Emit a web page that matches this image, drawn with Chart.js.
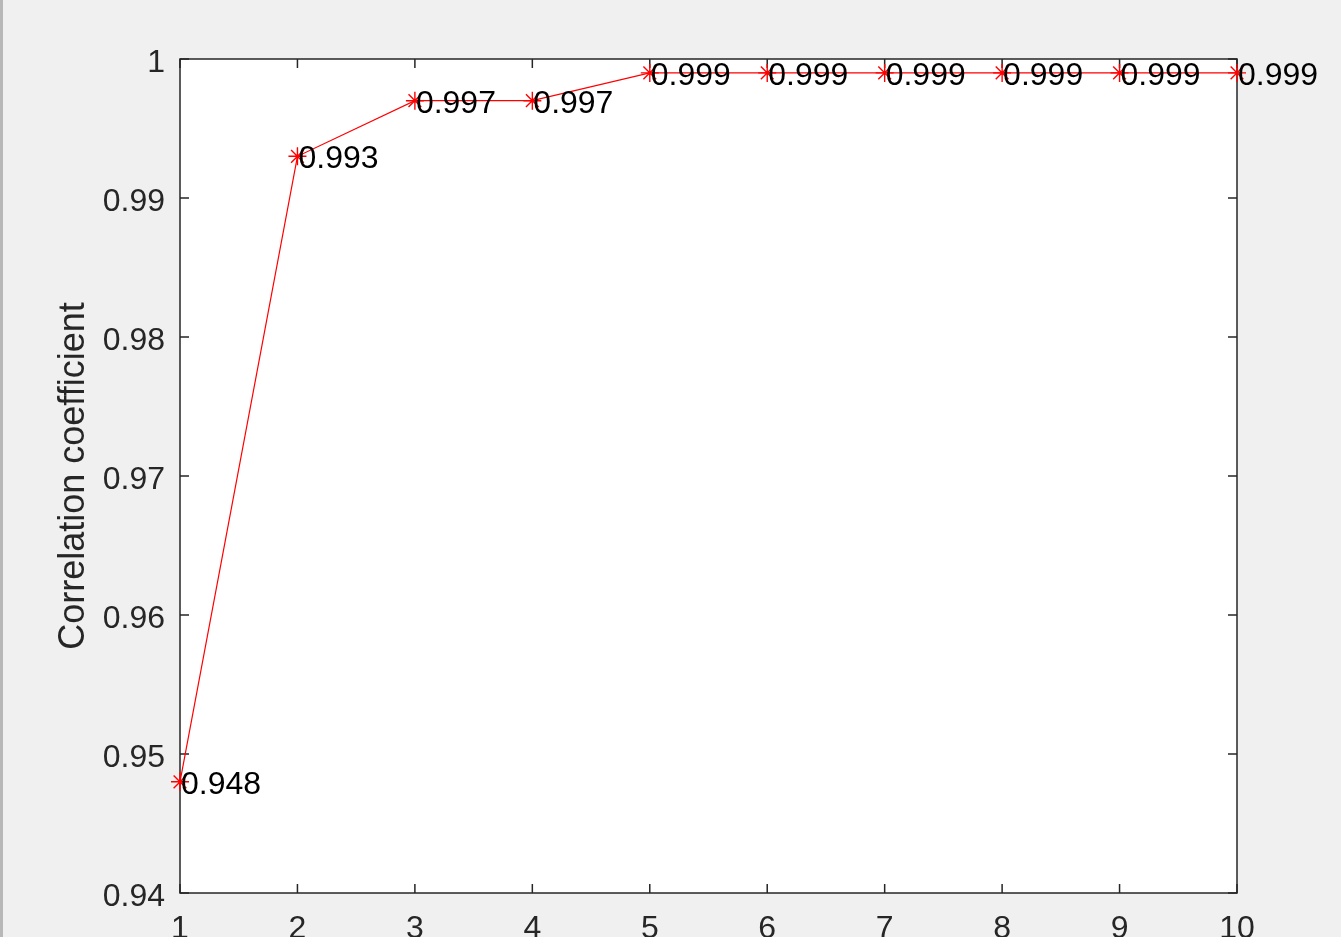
<!DOCTYPE html>
<html>
<head>
<meta charset="utf-8">
<script src="https://cdn.jsdelivr.net/npm/chart.js@4/dist/chart.umd.min.js"></script>
<style>
  html, body { margin: 0; padding: 0; background: #f0f0f0; overflow: hidden; }
  #wrap { position: absolute; left: 0; top: 0; width: 1341px; height: 1000px; }
  #edge { position: absolute; left: 0; top: 0; width: 3px; height: 937px; background: #b8b8b8; }
</style>
</head>
<body>
<div id="wrap"><canvas id="corrChart" width="1341" height="1000"></canvas></div>
<div id="edge"></div>
<script>
// data
const xValues = [1, 2, 3, 4, 5, 6, 7, 8, 9, 10];
const corrValues = [0.948, 0.993, 0.997, 0.997, 0.999, 0.999, 0.999, 0.999, 0.999, 0.999];
const pointLabels = ["0.948", "0.993", "0.997", "0.997", "0.999", "0.999", "0.999", "0.999", "0.999", "0.999"];
const yTitle = "Correlation coefficient";

const FONT = "'Liberation Sans', Arial, sans-serif";
const AXIS_COLOR = "#262626";

// matlab-ish box with inward ticks on all four sides
const boxPlugin = {
  id: "matlabBox",
  beforeDatasetsDraw(chart) {
    const { ctx, chartArea: a, scales } = chart;
    ctx.save();
    ctx.fillStyle = "#ffffff";
    ctx.fillRect(a.left, a.top, a.right - a.left, a.bottom - a.top);
    ctx.strokeStyle = AXIS_COLOR;
    ctx.lineWidth = 1.5;
    ctx.strokeRect(a.left, a.top, a.right - a.left, a.bottom - a.top);
    const len = 9;
    ctx.beginPath();
    scales.x.ticks.forEach(t => {
      const px = scales.x.getPixelForValue(t.value);
      ctx.moveTo(px, a.bottom); ctx.lineTo(px, a.bottom - len);
      ctx.moveTo(px, a.top); ctx.lineTo(px, a.top + len);
    });
    scales.y.ticks.forEach(t => {
      const py = scales.y.getPixelForValue(t.value);
      ctx.moveTo(a.left, py); ctx.lineTo(a.left + len, py);
      ctx.moveTo(a.right, py); ctx.lineTo(a.right - len, py);
    });
    ctx.stroke();
    ctx.restore();
  },
  afterDatasetsDraw(chart) {
    const { ctx } = chart;
    const meta = chart.getDatasetMeta(0);
    ctx.save();
    ctx.font = "32px " + FONT;
    ctx.fillStyle = "#000000";
    ctx.textAlign = "left";
    ctx.textBaseline = "middle";
    meta.data.forEach((pt, i) => {
      ctx.fillText(pointLabels[i], pt.x + 1, pt.y + 3);
    });
    ctx.restore();
  }
};

const ctx = document.getElementById("corrChart").getContext("2d");

new Chart(ctx, {
  type: "line",
  data: {
    datasets: [{
      data: xValues.map((x, i) => ({ x: x, y: corrValues[i] })),
      borderColor: "#ff0000",
      borderWidth: 1.2,
      tension: 0,
      pointStyle: "star",
      pointRadius: 9,
      pointBorderColor: "#ff0000",
      pointBorderWidth: 1.4,
      pointBackgroundColor: "#ff0000",
      clip: false
    }]
  },
  options: {
    responsive: false,
    animation: false,
    devicePixelRatio: 1,
    layout: { padding: { left: 0, top: 59, right: 104, bottom: 47 } },
    plugins: { legend: { display: false }, tooltip: { enabled: false } },
    scales: {
      x: {
        type: "linear",
        min: 1,
        max: 10,
        border: { display: false },
        grid: { display: false, drawTicks: false },
        ticks: {
          stepSize: 1,
          padding: 17,
          color: AXIS_COLOR,
          font: { family: FONT, size: 32 }
        },
        afterFit(scale) { scale.height = 60; }
      },
      y: {
        min: 0.94,
        max: 1,
        border: { display: false },
        grid: { display: false, drawTicks: false },
        ticks: {
          stepSize: 0.01,
          padding: 15,
          labelOffset: 4,
          color: AXIS_COLOR,
          font: { family: FONT, size: 32 },
          callback: (v) => String(Number(v.toFixed(2)))
        },
        title: {
          display: true,
          text: yTitle,
          color: AXIS_COLOR,
          font: { family: FONT, size: 36 },
          padding: { top: 52, bottom: 0 }
        },
        afterFit(scale) { scale.width = 180; }
      }
    }
  },
  plugins: [boxPlugin]
});
</script>
</body>
</html>
